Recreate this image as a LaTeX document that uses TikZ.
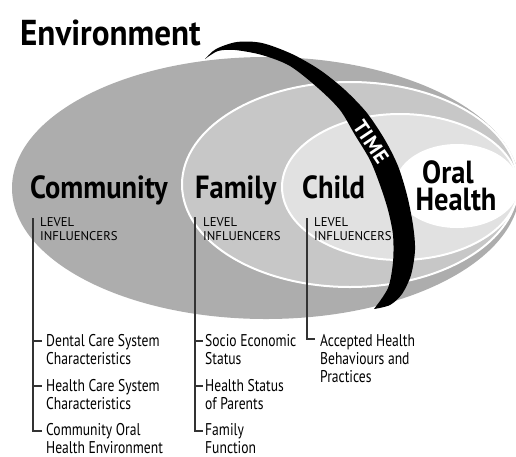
\documentclass[tikz,border=0pt]{standalone}
\usepackage{fontspec}
\setmainfont{PT Sans}
\newfontfamily\headfont[FakeStretch=0.89]{PT Sans}
\newfontfamily\envfont[FakeStretch=0.92]{PT Sans}
\newfontfamily\itemfont[FakeStretch=0.8]{PT Sans}
\newfontfamily\timefont[LetterSpace=3]{PT Sans}
\usetikzlibrary{calc}
\newcommand{\stack}[1]{\begin{tabular}[t]{@{}l@{}}#1\end{tabular}}
\definecolor{outergray}{HTML}{ADADAD}
\definecolor{familygray}{HTML}{C7C7C7}
\definecolor{childgray}{HTML}{E1E1E1}
\definecolor{linegray}{HTML}{333333}
\begin{document}
\begin{tikzpicture}[x=1pt,y=-1pt,
  head/.style={font=\headfont\bfseries\fontsize{32}{34}\selectfont, inner sep=0, anchor=base west},
  lvl/.style={font=\fontsize{12.7}{14}\selectfont, inner sep=0, anchor=base west},
  item/.style={font=\itemfont\fontsize{17}{18}\selectfont, inner sep=0, anchor=base west},
  conn/.style={draw=linegray, line width=1.1pt},
  ring/.style={draw=white, line width=2pt}]
\useasboundingbox (0,0) rectangle (516,456);

% ellipses
\fill[outergray] (266,188) ellipse [x radius=254, y radius=131];
\filldraw[fill=familygray, ring] (350,184.5) ellipse [x radius=168, y radius=102.5];
\filldraw[fill=childgray, ring] (400,187) ellipse [x radius=118, y radius=73];
\fill[white] (457,186) ellipse [x radius=62, y radius=42];

% time band
\fill[black] plot[smooth] coordinates {(205,59) (216,49) (237,42) (262,43) (292,54) (320,70) (345,90) (367,113) (385,140) (398,166) (407,195) (413,225) (415,250) (411,275) (402,294) (390,305) (374,309)}
  -- plot[smooth] coordinates {(374,309) (388,288) (393,262) (393,235) (388,210) (380,185) (370,160) (355,135) (340,110) (318,88) (290,66) (262,55) (235,50) (218,51) (205,59)} -- cycle;
\node[font=\timefont\bfseries\fontsize{20.5}{21}\selectfont, text=white, rotate=-56, inner sep=0] (time) at (371,142) {TIME};

% headings
\node[font=\envfont\bfseries\fontsize{36}{38}\selectfont, inner sep=0, anchor=base west] (env) at (20,45) {Environment};
\node[head] (comm) at (30,198) {Community};
\node[head] (fam) at (195,198) {Family};
\node[head] (child) at (302,198) {Child};
\node[head, anchor=base] (oral) at (448,183) {Oral};
\node[head, anchor=base] (health) at (456,210) {Health};

% level influencers
\node[lvl] (cmL) at (40,226) {\stack{LEVEL\\INFLUENCERS}};
\node[lvl] (fmL) at (203,226) {\stack{LEVEL\\INFLUENCERS}};
\node[lvl] (chL) at (314,226) {\stack{LEVEL\\INFLUENCERS}};

% items
\node[item] (cm1) at (46,346) {\stack{Dental Care System\\Characteristics}};
\node[item] (cm2) at (46,391) {\stack{Health Care System\\Characteristics}};
\node[item] (cm3) at (46,435) {\stack{Community Oral\\Health Environment}};
\node[item] (fm1) at (205,346) {\stack{Socio Economic\\Status}};
\node[item] (fm2) at (205,391) {\stack{Health Status\\of Parents}};
\node[item] (fm3) at (205,435) {\stack{Family\\Function}};
\node[item] (ch1) at (320,346) {\stack{Accepted Health\\Behaviours and\\Practices}};

% connector coordinates
\coordinate (cm0) at (33,218);
\coordinate (fm0) at (195,217);
\coordinate (ch0) at (307,218);
\coordinate (tc1) at ($(cm1.base west)+(-4,-5)$);
\coordinate (tc2) at ($(cm2.base west)+(-4,-5)$);
\coordinate (tc3) at ($(cm3.base west)+(-4,-4)$);
\coordinate (tf1) at ($(fm1.base west)+(-2,-5)$);
\coordinate (tf2) at ($(fm2.base west)+(-2,-5)$);
\coordinate (tf3) at ($(fm3.base west)+(-2,-4)$);
\coordinate (th1) at ($(ch1.base west)+(-5,-7)$);

\draw[conn] (cm0) |- (tc3);
\draw[conn] (tc1 -| cm0) -- (tc1);
\draw[conn] (tc2 -| cm0) -- (tc2);
\draw[conn] (fm0) |- (tf3);
\draw[conn] (tf1 -| fm0) -- (tf1);
\draw[conn] (tf2 -| fm0) -- (tf2);
\draw[conn] (ch0) |- (th1);
\end{tikzpicture}
\end{document}
